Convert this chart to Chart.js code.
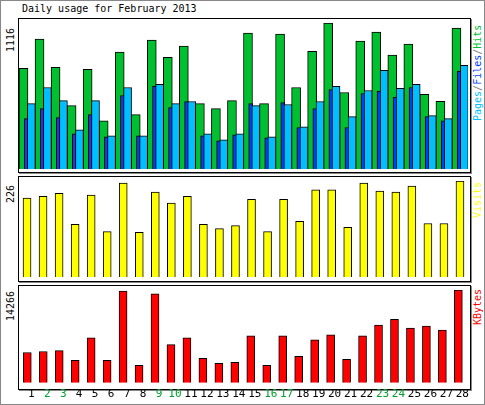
<!DOCTYPE html>
<html>
<head>
<meta charset="utf-8">
<script src="https://cdn.jsdelivr.net/npm/chart.js@4/dist/chart.umd.min.js"></script>
<style>
  body { margin: 0; background: #fff; font-family: "DejaVu Sans Mono", monospace; font-size: 10px; }
  #page { position: relative; width: 483px; height: 403px; border: 1px solid #888; box-sizing: content-box; }
  .panel { position: absolute; border: 1px solid #000; box-shadow: 1px 1px 0 #888; background: #fff; }
  .panel canvas { position: absolute; left: 0; top: 0; }
  .txt { position: absolute; white-space: nowrap; }
  .rot { transform-origin: left top; transform: rotate(-90deg); }
</style>
</head>
<body>
<div id="page">
  <div class="txt" style="left:21px;top:2px">Daily usage for February 2013</div>

  <div class="panel" style="left:17px;top:17px;width:451px;height:153px"><canvas id="c-hits"></canvas></div>
  <div class="panel" style="left:17px;top:175px;width:451px;height:104px"><canvas id="c-visits"></canvas></div>
  <div class="panel" style="left:17px;top:284px;width:451px;height:103px"><canvas id="c-kbytes"></canvas></div>

  <div class="txt rot" style="left:4px;top:51px">1116</div>
  <div class="txt rot" style="left:4px;top:202px">226</div>
  <div class="txt rot" style="left:4px;top:320px">14266</div>

  <div class="txt rot" style="left:471px;top:120px">
    <span style="color:#00bfff">Pages</span><span style="color:#888">/</span><span style="color:#0040ff">Files</span><span style="color:#888">/</span><span style="color:#00c030">Hits</span>
  </div>
  <div class="txt rot" style="left:471px;top:217px;color:#ffff00">Visits</div>
  <div class="txt rot" style="left:471px;top:324px;color:#ff0000">KBytes</div>
</div>

<script>
const days = Array.from({ length: 28 }, (_, i) => i + 1);
const weekendDays = [2, 3, 9, 10, 16, 17, 23, 24];

const hits = [770, 993, 777, 485, 762, 369, 893, 416, 985, 854, 939, 500, 462, 523,
  1039, 500, 1031, 623, 900, 1116, 585, 977, 1047, 870, 954, 570, 518, 1077];
const files = [385, 462, 393, 269, 416, 246, 562, 254, 631, 469, 516, 254, 216, 262,
  500, 239, 508, 316, 462, 608, 316, 577, 593, 547, 623, 400, 369, 747];
const pages = [500, 623, 523, 300, 523, 254, 623, 254, 647, 500, 516, 269, 223, 269,
  485, 246, 493, 323, 516, 631, 400, 600, 754, 616, 647, 408, 385, 793];
const visits = [186, 190, 197, 124, 193, 107, 221, 105, 200, 174, 190, 124, 114, 121,
  183, 107, 183, 131, 205, 205, 117, 221, 202, 200, 214, 126, 126, 226];
const kbytes = [4655, 4805, 4956, 3454, 6908, 3454, 14116, 2703, 13665, 5857, 6908, 3754, 3004, 3154,
  7208, 2703, 7208, 4054, 6607, 7358, 3604, 7208, 8860, 9761, 8409, 8710, 8109, 14266];

const maxHits = 1116;
const maxVisits = 226;
const maxKbytes = 14266;

function series(values, shift) {
  return values.map((v, i) => ({ x: days[i] + shift, y: v }));
}

function barSet(values, color, width, shift, order) {
  return {
    data: series(values, shift),
    backgroundColor: color,
    borderColor: '#000',
    borderWidth: 1,
    borderSkipped: 'bottom',
    barThickness: width,
    grouped: false,
    order
  };
}

function drawPanel(id, w, h, datasets, max, padding, showLabels) {
  const canvas = document.getElementById(id);
  canvas.style.width = w + 'px';
  canvas.style.height = h + 'px';
  new Chart(canvas, {
    type: 'bar',
    data: { datasets },
    options: {
      responsive: false,
      animation: false,
      devicePixelRatio: 1,
      layout: { padding },
      plugins: { legend: { display: false }, tooltip: { enabled: false } },
      scales: {
        x: {
          type: 'linear',
          offset: false,
          min: 0.5,
          max: 28.5,
          display: showLabels,
          grid: { display: false, drawTicks: false },
          border: { display: false },
          afterBuildTicks: axis => { axis.ticks = days.map(d => ({ value: d })); },
          ticks: {
            autoSkip: false,
            maxRotation: 0,
            padding: 5,
            labelOffset: 4,
            font: { family: 'DejaVu Sans Mono', size: 11 },
            color: ctx => weekendDays.includes(ctx.tick.value) ? '#00a030' : '#000'
          }
        },
        y: { display: false, min: 0, max }
      }
    }
  });
}

drawPanel('c-hits', 451, 153, [
  barSet(hits, '#00c030', 9, -0.22, 3),
  barSet(files, '#0040ff', 4, -0.05, 2),
  barSet(pages, '#00bfff', 8, 0.27, 1)
], maxHits, { left: 0, right: 2, top: 4, bottom: 3 }, false);

drawPanel('c-visits', 451, 104, [
  barSet(visits, '#ffff00', 8, 0, 1)
], maxVisits, { left: 0, right: 2, top: 4, bottom: 4 }, false);

const kb = document.getElementById('c-kbytes');
kb.parentElement.style.overflow = 'visible';
drawPanel('c-kbytes', 451, 120, [
  barSet(kbytes, '#ff0000', 8, 0, 1)
], maxKbytes, { left: 0, right: 2, top: 4, bottom: 0 }, true);
</script>
</body>
</html>
